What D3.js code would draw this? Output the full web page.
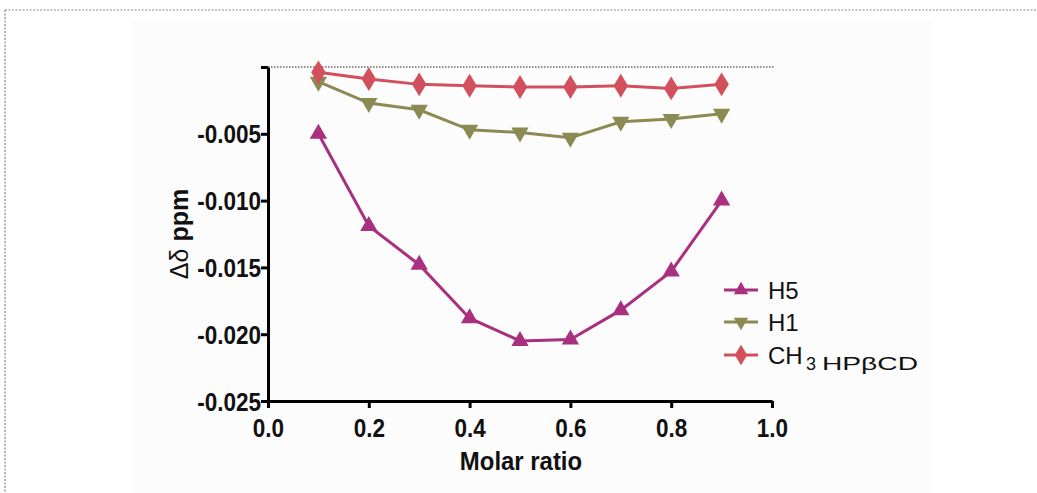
<!DOCTYPE html>
<html><head><meta charset="utf-8">
<script src="https://cdn.jsdelivr.net/npm/d3@7"></script>
<style>body{margin:0;background:#fff}svg{display:block}</style>
</head><body>
<svg id="c" width="1037" height="493"></svg>
<script>
const molarRatio = [0.1,0.2,0.3,0.4,0.5,0.6,0.7,0.8,0.9];
const h5 = [-0.0050,-0.0119,-0.0148,-0.0188,-0.0205,-0.0204,-0.0182,-0.0153,-0.0100];
const h1 = [-0.0011,-0.0027,-0.0032,-0.0047,-0.0049,-0.0053,-0.0041,-0.0039,-0.0035];
const ch3 = [-0.0004,-0.0009,-0.0013,-0.0014,-0.0015,-0.0015,-0.0014,-0.0016,-0.0013];
const xTicks = [0.0,0.2,0.4,0.6,0.8,1.0];
const yTicks = [-0.025,-0.020,-0.015,-0.010,-0.005];
const seriesNames = ["H5","H1","CH3"];
const seriesColors = ["#a8307f","#8a8a52","#d2505c"];

const svg = d3.select("#c");
svg.append("rect").attr("x",132).attr("y",20).attr("width",800).attr("height",480).attr("fill","#fcfcfc");
svg.append("line").attr("x1",5).attr("x2",1037).attr("y1",10).attr("y2",10).attr("stroke","#888").attr("stroke-width",1.2).attr("stroke-dasharray","2,1.5");
svg.append("line").attr("x1",5).attr("x2",5).attr("y1",10).attr("y2",493).attr("stroke","#888").attr("stroke-width",1.2).attr("stroke-dasharray","2,1.5");

const x = d3.scaleLinear().domain([0,1]).range([268,772]);
const y = d3.scaleLinear().domain([-0.025,0]).range([401,67]);

const font = "'Liberation Sans', Arial, sans-serif";
svg.append("line").attr("x1",x(0)).attr("x2",x(1.005)).attr("y1",y(0)).attr("y2",y(0))
  .attr("stroke","#222").attr("stroke-width",1).attr("stroke-dasharray","1.5,1.5");

function condense(sel, f){
  sel.each(function(){
    const w = this.getComputedTextLength();
    if(w>0) d3.select(this).attr("textLength", w*f).attr("lengthAdjust","spacingAndGlyphs");
  });
}

const fmt = f => d => f(d).replace("\u2212","-");
const xAxis = svg.append("g").attr("transform",`translate(0,${y(-0.025)})`)
  .call(d3.axisBottom(x).tickValues(xTicks).tickFormat(fmt(d3.format(".1f"))).tickSize(7).tickSizeOuter(0));
const yAxis = svg.append("g").attr("transform",`translate(${x(0)},0)`)
  .call(d3.axisLeft(y).tickValues(yTicks.concat([0])).tickFormat(d=> d===0?"":fmt(d3.format(".3f"))(d)).tickSize(7).tickSizeOuter(0));
[xAxis,yAxis].forEach(a=>{
  a.attr("font-size",null).attr("font-family",null);
  a.select(".domain").attr("stroke","#000").attr("stroke-width",3);
  a.selectAll(".tick line").attr("stroke","#000").attr("stroke-width",3);
  a.selectAll("text").style("font-family",font).style("font-weight","bold").style("font-size","25px").attr("fill","#111");
  condense(a.selectAll("text"), 0.9);
});
xAxis.selectAll("text").attr("dy",null).attr("y",36);
yAxis.selectAll("text").attr("x",-7).attr("dy","0.36em");

const xt = svg.append("text").attr("x",521).attr("y",470).attr("text-anchor","middle")
  .style("font-family",font).style("font-weight","bold").style("font-size","26px").attr("fill","#111").text("Molar ratio");
condense(xt, 0.92);
const yl = svg.append("text").attr("transform","translate(188,234) rotate(-90)").attr("text-anchor","middle")
  .style("font-family",font).style("font-size","25px").attr("fill","#111");
yl.append("tspan").text("Δδ ");
yl.append("tspan").attr("font-weight","bold").text("ppm");

const data = [h5,h1,ch3];
const rot = [0,180,0];
const line = d3.line().x((d,i)=>x(molarRatio[i])).y(d=>y(d));
data.forEach((s,k)=>{
  svg.append("path").datum(s).attr("d",line).attr("fill","none").attr("stroke",seriesColors[k]).attr("stroke-width",3);
  svg.selectAll(null).data(s).enter().append("path")
    .attr("d", k===2 ? d3.symbol().type(d3.symbolDiamond).size(150)() : d3.symbol().type(d3.symbolTriangle).size(130)())
    .attr("transform",(d,i)=>`translate(${x(molarRatio[i])},${y(d)}) rotate(${rot[k]})${k===2?" scale(1.1,1.05)":""}`)
    .attr("fill",seriesColors[k]);
});

const ly = [290,322,355];
seriesNames.forEach((n,k)=>{
  const g = svg.append("g").attr("transform",`translate(0,${ly[k]})`);
  g.append("line").attr("x1",724).attr("x2",758).attr("stroke",seriesColors[k]).attr("stroke-width",3);
  g.append("path").attr("d", k===2 ? d3.symbol().type(d3.symbolDiamond).size(110)() : d3.symbol().type(d3.symbolTriangle).size(90)())
   .attr("transform",`translate(741,0) rotate(${rot[k]})${k===2?" scale(1.1,1.05)":""}`).attr("fill",seriesColors[k]);
  if(k===2){
    g.append("text").attr("x",768).attr("y",9).style("font-family",font).style("font-size","24px").attr("fill","#111").text("CH");
    g.append("text").attr("x",806).attr("y",15).style("font-family",font).style("font-size","18px").attr("fill","#111").text("3");
    g.append("text").attr("x",822).attr("y",15).style("font-family",font).style("font-size","18px").attr("fill","#111")
      .attr("textLength",96).attr("lengthAdjust","spacingAndGlyphs").text("HPβCD");
  } else {
    g.append("text").attr("x",768).attr("y",9).style("font-family",font).style("font-size","24px").attr("fill","#111").text(n);
  }
});
</script>
</body></html>
